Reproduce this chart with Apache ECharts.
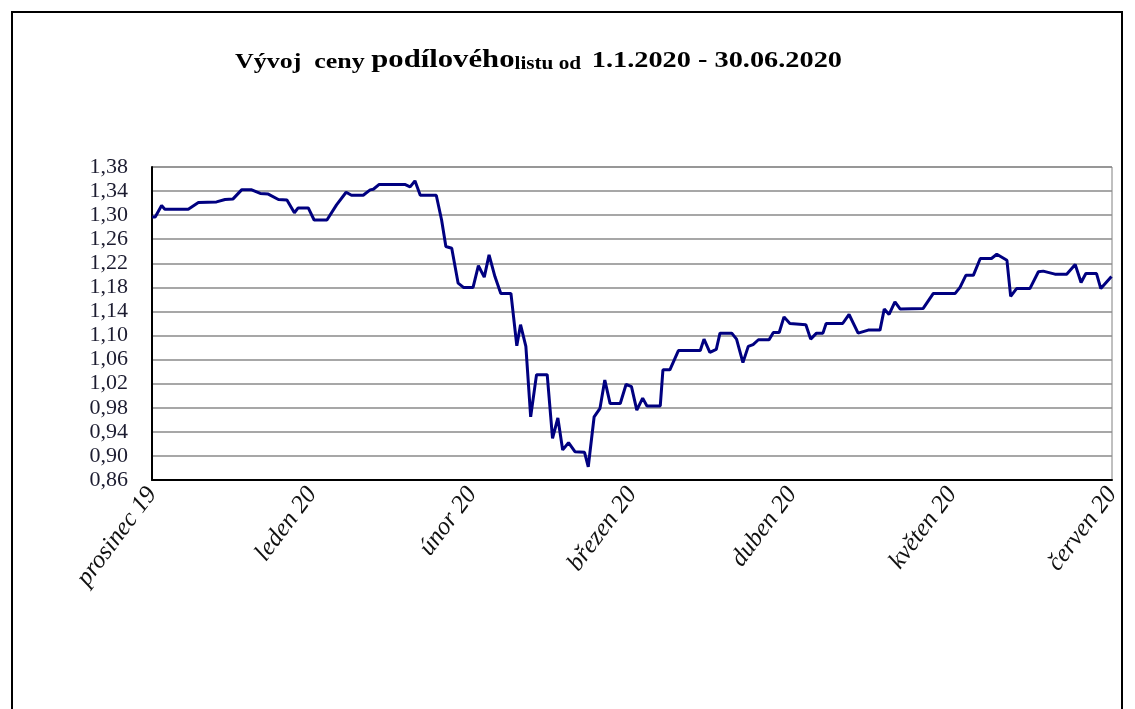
<!DOCTYPE html>
<html>
<head>
<meta charset="utf-8">
<script src="https://cdn.jsdelivr.net/npm/echarts@6/dist/echarts.min.js"></script>
<style>
  html, body { margin: 0; padding: 0; background: #fff; }
  #chart { width: 1135px; height: 709px; }
</style>
</head>
<body>
<div id="chart"></div>
<script>
// popisky osy x (měsíce), jeden každých 30 dní
const months = ['prosinec 19', 'leden 20', 'únor 20', 'březen 20', 'duben 20', 'květen 20', 'červen 20'];
const yTicks = [0.86, 1.38, 0.04]; // min, max, krok

// den od začátku osy a cena podílového listu
const days = [
  0, 0.6, 1.8, 2.4, 6.8, 8.7, 12.1, 13.7, 15.2, 16.8, 18.7, 20.3, 21.8, 23.7, 25.3, 26.7, 27.4, 29.3,
  30.4, 32.8, 34.6, 36.4, 37.4, 39.6, 40.9, 41.5, 42.6, 47.4, 48.4, 49.3, 50.3, 53.3, 54.3, 55.1, 56.2,
  57.4, 58.4, 60.2, 61.2, 62.3, 63.2, 64.3, 65.4, 67.3, 68.4, 69.1, 70.1, 71.0, 72.1, 74.1, 75.1, 76.1,
  77.0, 78.1, 79.3, 81.1, 81.8, 82.9, 84.0, 84.9, 85.9, 87.8, 88.9, 89.9, 90.9, 92.0, 92.8, 95.3, 95.8,
  97.1, 98.7, 102.8, 103.5, 104.6, 105.8, 106.5, 108.7, 109.6, 110.8, 111.8, 112.7, 113.7, 115.7, 116.5,
  117.6, 118.5, 119.6, 122.6, 123.5, 124.6, 125.8, 126.4, 129.5, 130.7, 132.4, 134.3, 136.5, 137.3, 138.2,
  139.3, 140.3, 144.6, 146.5, 150.6, 151.5, 152.6, 154.0, 155.3, 157.4, 158.4, 160.3, 161.0, 162.1, 164.6,
  166.2, 167.1, 169.3, 171.5, 173.1, 174.2, 175.1, 177.1, 177.9, 179.9
];
const prices = [
  1.297, 1.297, 1.316, 1.31, 1.31, 1.321, 1.322, 1.326, 1.327, 1.342, 1.342, 1.336, 1.335, 1.326, 1.325, 1.304, 1.312, 1.312,
  1.292, 1.292, 1.317, 1.338, 1.333, 1.333, 1.342, 1.343, 1.351, 1.351, 1.347, 1.357, 1.333, 1.333, 1.292, 1.248, 1.245,
  1.187, 1.18, 1.18, 1.216, 1.197, 1.234, 1.198, 1.17, 1.17, 1.083, 1.118, 1.082, 0.965, 1.035, 1.035, 0.929, 0.963,
  0.91, 0.922, 0.907, 0.906, 0.882, 0.965, 0.979, 1.026, 0.987, 0.987, 1.019, 1.015, 0.976, 0.996, 0.983, 0.983, 1.043,
  1.043, 1.075, 1.075, 1.094, 1.072, 1.077, 1.104, 1.104, 1.094, 1.055, 1.082, 1.085, 1.093, 1.093, 1.105,
  1.105, 1.131, 1.12, 1.118, 1.094, 1.104, 1.104, 1.12, 1.12, 1.135, 1.104, 1.109, 1.109, 1.144, 1.135,
  1.156, 1.144, 1.145, 1.17, 1.17, 1.18, 1.2, 1.2, 1.228, 1.228, 1.235, 1.225, 1.165, 1.178, 1.178,
  1.206, 1.207, 1.202, 1.202, 1.218, 1.188, 1.203, 1.203, 1.178, 1.198
];

const chart = echarts.init(document.getElementById('chart'), null, { renderer: 'canvas' });

const serif = "'Liberation Serif', 'Times New Roman', serif";
const titleRich = (size) => ({ fontFamily: serif, fontWeight: 'bold', fontSize: size, fill: '#000', verticalAlign: 'bottom', lineHeight: 30 });

const option = {
  animation: false,
  backgroundColor: '#fff',
  graphic: [
    {
      type: 'rect',
      shape: { x: 12, y: 12, width: 1110, height: 740 },
      style: { fill: 'none', stroke: '#000', lineWidth: 2 },
      silent: true
    },
    {
      // nadpis je v originále mírně roztažený do šířky
      type: 'text',
      x: 235,
      y: 43,
      scaleX: 1.18,
      silent: true,
      style: {
        text: '{a|Vývoj  ceny }{b|podílového}{c|listu od  }{d|1.1.2020 - 30.06.2020}',
        rich: { a: titleRich(22), b: titleRich(26), c: titleRich(18), d: titleRich(24) }
      }
    }
  ],
  grid: {
    left: 152,
    right: 23,
    top: 167,
    bottom: 229,
    show: true,
    borderColor: '#808080',
    borderWidth: 1
  },
  xAxis: {
    type: 'value',
    min: 0,
    max: 180,
    interval: 30,
    axisLine: { show: true, onZero: false, lineStyle: { color: '#000', width: 2 } },
    axisTick: { show: false },
    splitLine: { show: false },
    axisLabel: {
      rotate: 53,
      margin: 10,
      fontFamily: serif,
      fontStyle: 'italic',
      fontSize: 25,
      color: '#111',
      showMinLabel: true,
      showMaxLabel: true,
      formatter: v => months[Math.round(v / 30)]
    }
  },
  yAxis: {
    type: 'value',
    min: yTicks[0],
    max: yTicks[1],
    interval: yTicks[2],
    axisLine: { show: true, lineStyle: { color: '#000', width: 2 } },
    axisTick: { show: false },
    splitLine: { show: true, lineStyle: { color: '#8a8a8a', width: 1.5 } },
    axisLabel: {
      margin: 24,
      fontFamily: serif,
      fontSize: 22,
      color: '#1c1c30',
      formatter: v => v.toFixed(2).replace('.', ',')
    }
  },
  series: [{
    type: 'line',
    data: days.map((d, i) => [d, prices[i]]),
    showSymbol: false,
    lineStyle: { color: '#000080', width: 3 },
    clip: false
  }]
};

chart.setOption(option);
</script>
</body>
</html>
